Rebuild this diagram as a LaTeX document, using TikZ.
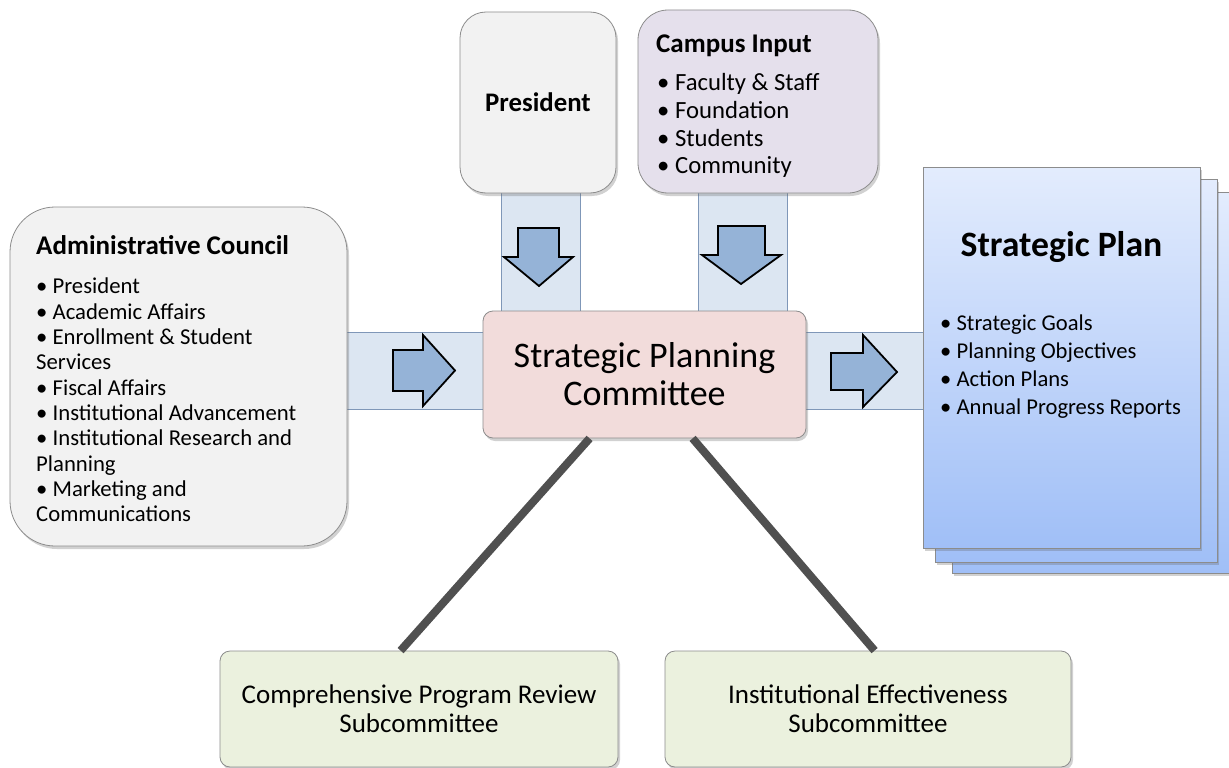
\documentclass[tikz,border=0pt]{standalone}
\usepackage{fontspec}
\setmainfont{Carlito}
\usetikzlibrary{shadows,calc}
\definecolor{boxgray}{HTML}{F2F2F2}
\definecolor{boxline}{HTML}{8C8C8C}
\definecolor{campus}{HTML}{E5E0EC}
\definecolor{spc}{HTML}{F2DCDB}
\definecolor{bandfill}{HTML}{DCE6F2}
\definecolor{bandline}{HTML}{7F97B8}
\definecolor{arrowfill}{HTML}{95B3D7}
\definecolor{subfill}{HTML}{EBF1DE}
\definecolor{linkgray}{HTML}{505050}
\definecolor{plantop}{HTML}{E3ECFD}
\definecolor{planbot}{HTML}{A0BFF7}
\tikzset{
  softshadow/.style={drop shadow={shadow xshift=2pt,shadow yshift=-3pt,opacity=0.3,fill=black!60}},
  roundbox/.style={draw=boxline, line width=0.8pt, softshadow, inner sep=0pt},
  bandbox/.style={fill=bandfill, draw=bandline, line width=0.7pt},
  fatarrow/.style={fill=arrowfill, draw=black, line width=1.8pt, line join=miter},
  page/.style={draw=boxline, line width=0.8pt, top color=plantop, bottom color=planbot, softshadow, inner sep=0pt},
  link/.style={draw=linkgray, line width=8pt},
  txt/.style={inner sep=0pt, align=left}
}
\begin{document}
\begin{tikzpicture}[x=1pt,y=-1pt]
\useasboundingbox (0,0) rectangle (1229,768);
% bands
\draw[bandbox] (501,190) rectangle (580,312);
\draw[bandbox] (698,190) rectangle (787,312);
\draw[bandbox] (345,332) rectangle (485,409);
\draw[bandbox] (804,332) rectangle (923,409);
% boxes
\node[roundbox, fill=boxgray, rounded corners=26pt, minimum width=156pt, minimum height=181pt,
  font=\fontsize{26.8}{30}\selectfont\bfseries] (pres) at (538,102.5) {President};
\node[roundbox, fill=campus, rounded corners=30pt, minimum width=240pt, minimum height=183pt] (campus) at (758,101.5) {};
\node[roundbox, fill=boxgray, rounded corners=45pt, minimum width=337pt, minimum height=339pt] (admin) at (178.5,376.5) {};
\node[roundbox, fill=spc, rounded corners=10pt, minimum width=323pt, minimum height=127pt, align=center,
  font=\fontsize{36}{38}\selectfont] (spc) at (644.5,374.5) {Strategic Planning\\Committee};
\node[roundbox, fill=subfill, rounded corners=10pt, minimum width=398pt, minimum height=116pt, align=center,
  font=\fontsize{27}{29}\selectfont] (cpr) at (419,709) {Comprehensive Program Review\\Subcommittee};
\node[roundbox, fill=subfill, rounded corners=10pt, minimum width=406pt, minimum height=116pt, align=center,
  font=\fontsize{27}{29}\selectfont] (ier) at (868,709) {Institutional Effectiveness\\Subcommittee};
% strategic plan pages
\node[page, minimum width=282pt, minimum height=381pt] (page3) at (1093,382.5) {};
\node[page, minimum width=282pt, minimum height=383pt] (page2) at (1076,370.5) {};
\node[page, minimum width=277pt, minimum height=381pt] (plan) at (1061.5,357.5) {};
% arrows
\draw[fatarrow] (518,228) -- (559,228) -- (559,257) -- (573,257) -- (539,286) -- (504,257) -- (518,257) -- cycle;
\draw[fatarrow] (718,226) -- (765,226) -- (765,255) -- (781,255) -- (741,284) -- (702,255) -- (718,255) -- cycle;
\draw[fatarrow] (393,350) -- (423,350) -- (423,335) -- (455,370.5) -- (423,406) -- (423,391) -- (393,391) -- cycle;
\draw[fatarrow] (831,353) -- (863,353) -- (863,335) -- (897,372) -- (863,407) -- (863,390) -- (831,390) -- cycle;
% connectors
\draw[link] ($(spc.south west)+(107,0)$) -- ($(cpr.north west)+(181,0)$);
\draw[link] ($(spc.south west)+(210,0)$) -- ($(ier.north west)+(210,0)$);
% texts
\node[txt, anchor=base west, font=\fontsize{27}{30}\selectfont\bfseries] (campustitle) at (656,52.6) {Campus Input};
\node[txt, anchor=north west, font=\fontsize{24.7}{27.7}\selectfont] (campuslist) at (657,73.5)
  {\textbullet\ Faculty \& Staff\\ \textbullet\ Foundation\\ \textbullet\ Students\\ \textbullet\ Community};
\node[txt, anchor=base west, font=\fontsize{27}{30}\selectfont\bfseries] (admintitle) at (36,254.6) {Administrative Council};
\node[txt, anchor=north west, font=\fontsize{22.7}{25.3}\selectfont] (adminlist) at (36,278)
  {\textbullet\ President\\ \textbullet\ Academic Affairs\\ \textbullet\ Enrollment \& Student\\ Services\\
   \textbullet\ Fiscal Affairs\\ \textbullet\ Institutional Advancement\\ \textbullet\ Institutional Research and\\ Planning\\
   \textbullet\ Marketing and\\ Communications};
\node[txt, anchor=base, font=\fontsize{35.7}{40}\selectfont\bfseries] (plantitle) at (1061.5,256.4) {Strategic Plan};
\node[txt, anchor=north west, font=\fontsize{22.6}{28}\selectfont] (planlist) at (940,314.4)
  {\textbullet\ Strategic Goals\\ \textbullet\ Planning Objectives\\ \textbullet\ Action Plans\\ \textbullet\ Annual Progress Reports};
\end{tikzpicture}
\end{document}
